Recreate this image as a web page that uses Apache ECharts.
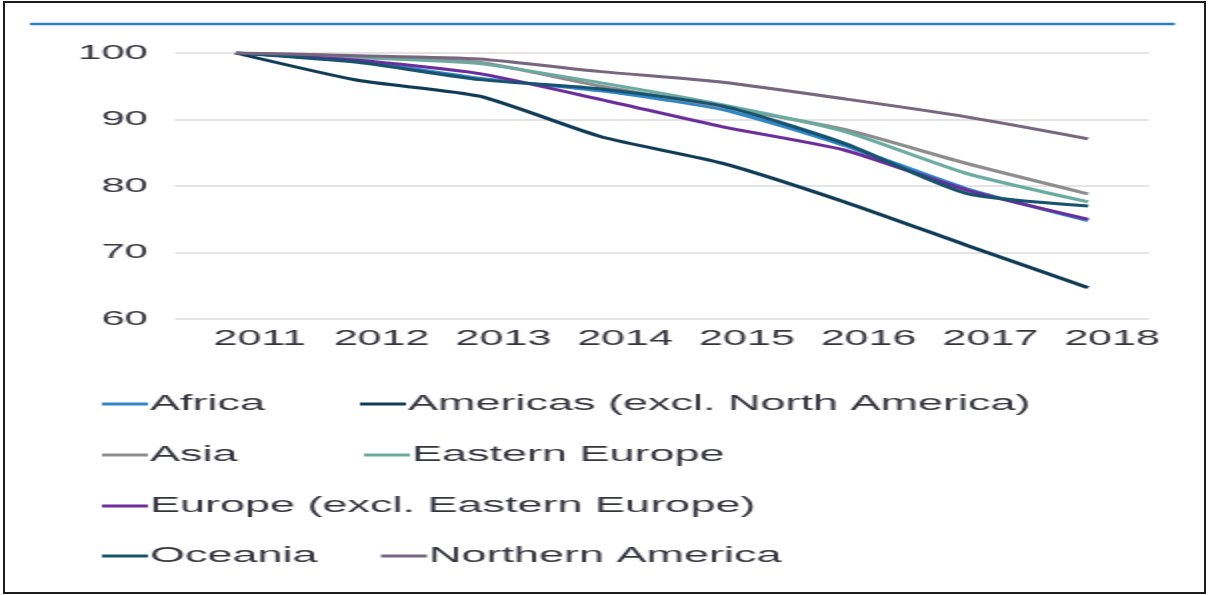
<!DOCTYPE html>
<html>
<head>
<meta charset="utf-8">
<script src="https://cdn.jsdelivr.net/npm/echarts@6/dist/echarts.min.js"></script>
<style>
  html, body { margin: 0; padding: 0; background: #fff; overflow: hidden; }
  #frame { position: absolute; left: 3px; top: 1px; width: 1199px; height: 589px; border: 2px solid #1c1c1c; }
  #chart { position: absolute; left: 0; top: 0; width: 605px; height: 595px; transform: scaleX(2); transform-origin: 0 0; }
</style>
</head>
<body>
<div id="chart"></div>
<div id="frame"></div>
<script>
const years = ['2011', '2012', '2013', '2014', '2015', '2016', '2017', '2018'];
const seriesNames = ['Africa', 'Americas (excl. North America)', 'Asia', 'Eastern Europe', 'Europe (excl. Eastern Europe)', 'Oceania', 'Northern America'];
const africa = [100, 98.8, 96.2, 94.3, 91.5, 86.1, 79.6, 74.8];
const americas = [100, 95.9, 93.5, 87.4, 83.4, 77.6, 71.1, 64.7];
const asia = [100, 99.5, 98.6, 95.0, 91.9, 88.5, 83.4, 78.8];
const easternEurope = [100, 99.3, 98.4, 95.5, 92.2, 88.2, 81.9, 77.6];
const europe = [100, 98.9, 96.9, 93.0, 88.9, 85.4, 79.4, 75.0];
const oceania = [100, 98.6, 96.0, 94.6, 92.0, 86.4, 78.9, 77.0];
const northernAmerica = [100, 99.6, 99.1, 97.2, 95.6, 93.1, 90.4, 87.1];
const yTicks = [60, 70, 80, 90, 100];

const values = [africa, americas, asia, easternEurope, europe, oceania, northernAmerica];
const colors = ['#2f86c8', '#0f3b57', '#8c8c8c', '#6aaba0', '#6b2d9b', '#17536e', '#786680'];
const legendPos = [
  [51, 392], [180, 392],
  [51, 443], [182, 443],
  [51, 494],
  [51, 544], [190.5, 544]
];
const font = 'Liberation Sans, Arial, sans-serif';
const textColor = '#35353f';

const chart = echarts.init(document.getElementById('chart'));
chart.setOption({
  animation: false,
  color: colors,
  grid: { left: 87.5, width: 487, top: 53, height: 266 },
  graphic: [{
    type: 'line',
    shape: { x1: 15, y1: 24, x2: 587.5, y2: 24 },
    style: { stroke: '#2f7fc5', lineWidth: 2.5 }
  }],
  legend: seriesNames.map((n, i) => ({
    data: [n],
    left: legendPos[i][0],
    top: legendPos[i][1],
    icon: 'rect',
    itemWidth: 23,
    itemHeight: 3,
    padding: 0,
    textStyle: { fontFamily: font, fontSize: 22.5, color: textColor, lineHeight: 24, padding: [0, 0, 0, -4] }
  })),
  xAxis: {
    type: 'category',
    data: years,
    boundaryGap: true,
    axisLine: { show: false },
    axisTick: { show: false },
    axisLabel: { interval: 0, hideOverlap: false, fontFamily: font, fontSize: 21.5, color: textColor, margin: 9, padding: [0, 0, 0, 24] }
  },
  yAxis: {
    type: 'value',
    min: 60,
    max: 100,
    interval: 10,
    axisLine: { show: false },
    axisTick: { show: false },
    axisLabel: {
      fontFamily: font, fontSize: 21, color: textColor, margin: 13.5,
      formatter: v => (yTicks.indexOf(v) >= 0 ? String(v) : '')
    },
    splitLine: { lineStyle: { color: '#e4e4e4', width: 2 } }
  },
  series: seriesNames.map((n, i) => ({
    name: n,
    type: 'line',
    data: values[i],
    smooth: 0.2,
    symbol: 'none',
    lineStyle: { width: 3, color: colors[i] },
    itemStyle: { color: colors[i] }
  }))
});
</script>
</body>
</html>
